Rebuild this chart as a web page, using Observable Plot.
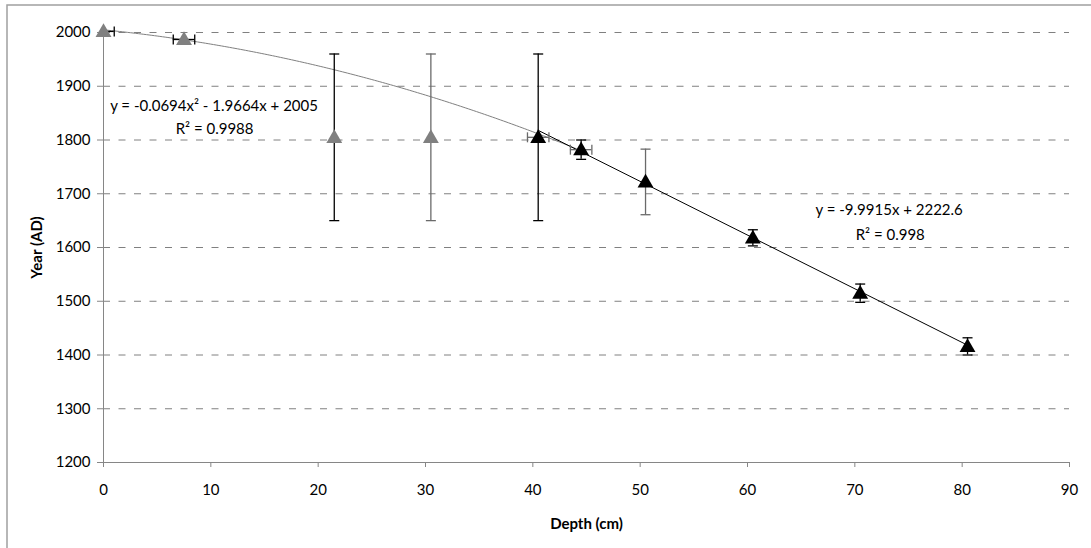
<!DOCTYPE html>
<html>
<head>
<meta charset="utf-8">
<script src="https://cdn.jsdelivr.net/npm/d3@7"></script>
<script src="https://cdn.jsdelivr.net/npm/@observablehq/plot@0.6"></script>
<style>
  html, body { margin: 0; padding: 0; background: #fff; }
  #chart { width: 1091px; height: 548px; overflow: hidden; }
</style>
</head>
<body>
<div id="chart"></div>
<script>
// ---- data ----
const depth = [0, 7.5, 21.5, 30.5, 40.5, 44.5, 50.5, 60.5, 70.5, 80.5];
const year  = [2002, 1987, 1805, 1805, 1805, 1782, 1722, 1618, 1515, 1416];
const yErr  = [0, 0, 155, 155, 155, 18, 61, 15, 17, 16];
const xErr  = [1, 1, 0, 0, 1, 1, 0, 0, 0, 0];
const fitGroup = ["upper", "upper", "upper", "upper", "lower", "lower", "lower", "lower", "lower", "lower"];

// trendline equations printed on the chart
const polyCoef = [2005, -1.9664, -0.0694];   // c0 + c1 x + c2 x^2
const polyRange = [0, 44.5];
const linCoef = [2222.6, -9.9915];           // c0 + c1 x
const linRange = [40.5, 80.5];

const xTicks = [0, 10, 20, 30, 40, 50, 60, 70, 80, 90];
const yTicks = [1200, 1300, 1400, 1500, 1600, 1700, 1800, 1900, 2000];

const labels = [
  {x: 10.3, y: 1862, text: "y = -0.0694x² - 1.9664x + 2005"},
  {x: 10.35, y: 1820, text: "R² = 0.9988"},
  {x: 73.2, y: 1669, text: "y = -9.9915x + 2222.6"},
  {x: 73.3, y: 1623, text: "R² = 0.998"}
];

// ---- build tables ----
const pts = depth.map((d, i) => ({depth: d, year: year[i], yErr: yErr[i], xErr: xErr[i], group: fitGroup[i]}));
const grayV = new Set([30.5, 50.5]);
const grayH = new Set([40.5, 44.5]);

const vBars = pts.filter(p => p.yErr > 0);
const hBars = pts.filter(p => p.xErr > 0);
const vCaps = vBars.flatMap(p => [{x: p.depth, y: p.year + p.yErr, g: grayV.has(p.depth)}, {x: p.depth, y: p.year - p.yErr, g: grayV.has(p.depth)}]);
const hCaps = hBars.flatMap(p => [{x: p.depth - p.xErr, y: p.year, g: grayH.has(p.depth)}, {x: p.depth + p.xErr, y: p.year, g: grayH.has(p.depth)}]).filter(c => c.x >= 0);

const polyLine = d3.range(polyRange[0], polyRange[1] + 1e-9, 0.25).map(x => ({x, y: polyCoef[0] + polyCoef[1] * x + polyCoef[2] * x * x}));
const linLine = linRange.map(x => ({x, y: linCoef[0] + linCoef[1] * x}));

const hCapSym = {draw(ctx, size) { const r = Math.sqrt(size / Math.PI); ctx.moveTo(-r, 0); ctx.lineTo(r, 0); }};
const vCapSym = {draw(ctx, size) { const r = Math.sqrt(size / Math.PI); ctx.moveTo(0, -r); ctx.lineTo(0, r); }};

const GRAY = "#808080";
const AXIS = "#868686";

const chart = Plot.plot({
  width: 1091,
  height: 548,
  marginLeft: 103,
  marginRight: 22,
  marginTop: 32,
  marginBottom: 86,
  style: {fontFamily: "Lato, 'Open Sans', sans-serif", fontSize: "15px", color: "#000", background: "#fff"},
  x: {domain: [0, 90]},
  y: {domain: [1200, 2000]},
  marks: [
    Plot.ruleY(yTicks.filter(t => t > 1200), {stroke: GRAY, strokeWidth: 1, strokeDasharray: "7,8.5"}),
    Plot.ruleX([0], {stroke: AXIS, strokeWidth: 1}),
    Plot.ruleY([1200], {stroke: AXIS, strokeWidth: 1}),
    Plot.axisX({ticks: xTicks, tickSize: 5, stroke: AXIS, tickPadding: 17, tickFormat: d => String(d), fill: "#000",
                label: "Depth (cm)", labelAnchor: "center", labelArrow: "none", labelOffset: 66}),
    Plot.axisY({ticks: yTicks, tickSize: 6, stroke: AXIS, tickPadding: 7, tickFormat: d => String(d), fill: "#000",
                label: "Year (AD)", labelAnchor: "center", labelArrow: "none", labelOffset: 72}),
    Plot.line(polyLine, {x: "x", y: "y", stroke: GRAY, strokeWidth: 1}),
    Plot.line(linLine, {x: "x", y: "y", stroke: "#000", strokeWidth: 1}),
    Plot.ruleX(vBars, {x: "depth", y1: p => p.year - p.yErr, y2: p => p.year + p.yErr, stroke: p => grayV.has(p.depth) ? "#6a6a6a" : "#000", strokeWidth: 1.3}),
    Plot.dot(vCaps, {x: "x", y: "y", symbol: hCapSym, r: 5, stroke: c => c.g ? "#6a6a6a" : "#000", strokeWidth: 1.3}),
    Plot.ruleY(hBars, {y: "year", x1: p => Math.max(0, p.depth - p.xErr), x2: p => p.depth + p.xErr, stroke: p => grayH.has(p.depth) ? "#6a6a6a" : "#000", strokeWidth: 1.3}),
    Plot.dot(hCaps, {x: "x", y: "y", symbol: vCapSym, r: 5, stroke: c => c.g ? "#6a6a6a" : "#000", strokeWidth: 1.3}),
    Plot.dot(pts, {x: "depth", y: "year", symbol: "triangle", r: 5.9, fill: p => p.group === "upper" ? GRAY : "#000", stroke: "none", dy: 1}),
    Plot.text(labels, {x: "x", y: "y", text: "text", textAnchor: "middle", fill: "#000", fontSize: 15})
  ]
});

// make axis labels bold and colors explicit
d3.select(chart).selectAll("[aria-label='x-axis label'] text, [aria-label='y-axis label'] text")
  .attr("font-weight", "bold").attr("fill", "#000");
d3.select(chart).selectAll("[aria-label='x-axis label'], [aria-label='y-axis label']")
  .attr("font-weight", "bold").attr("fill", "#000");

// outer chart border
d3.select(chart).append("rect")
  .attr("x", 7).attr("y", 5).attr("width", 1200).attr("height", 700)
  .attr("fill", "none").attr("stroke", "#a0a0a0").attr("stroke-width", 1.5);

document.getElementById("chart").appendChild(chart);
</script>
</body>
</html>
